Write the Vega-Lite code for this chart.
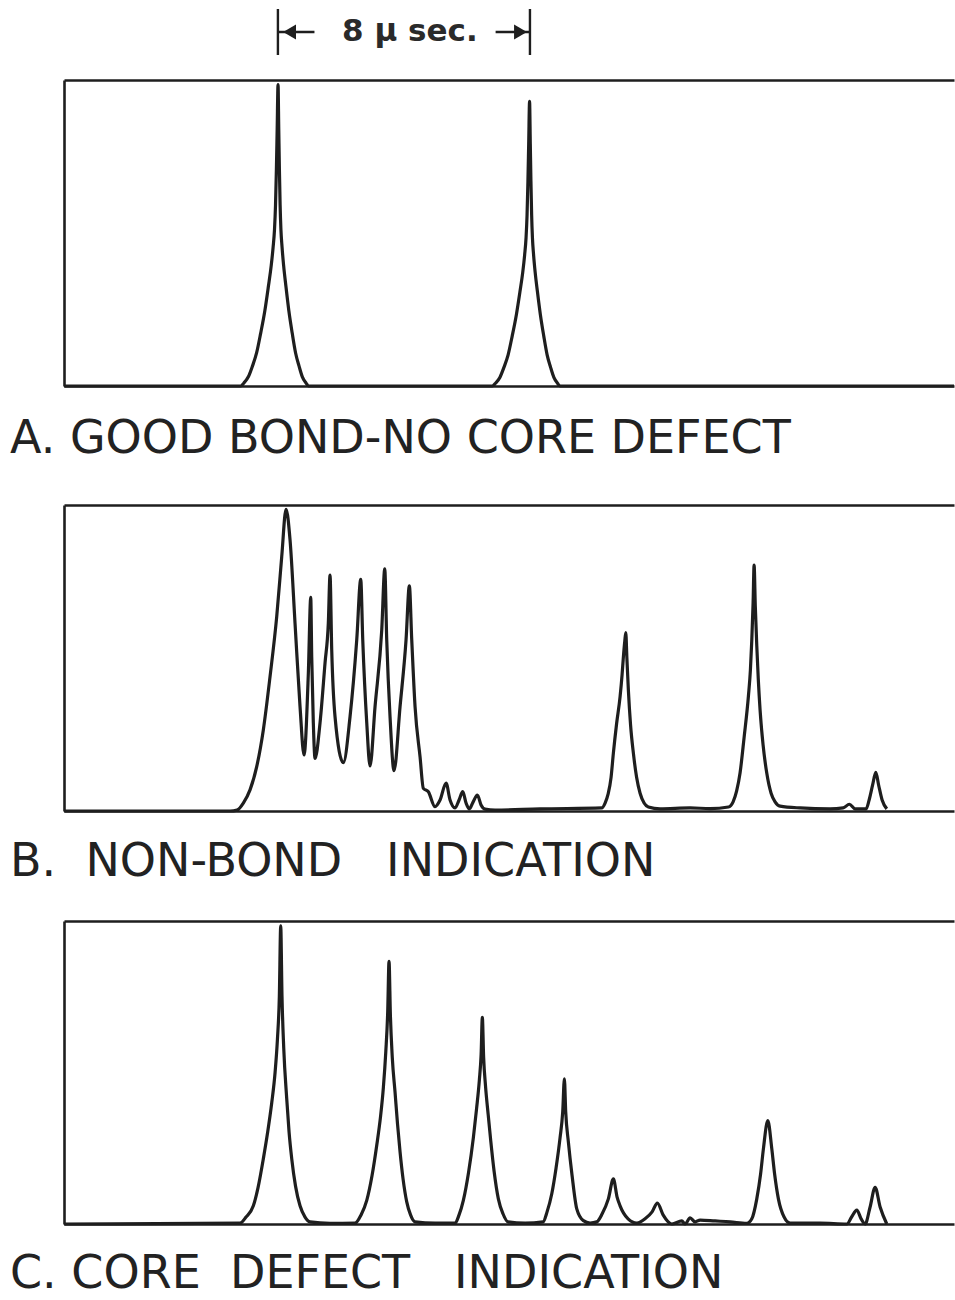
{
  "$schema": "https://vega.github.io/schema/vega-lite/v6.json",
  "background": "white",
  "padding": {"left": 10, "top": 7, "right": 0, "bottom": 0},
  "spacing": 21,
  "config": {
    "view": {"stroke": null},
    "axis": {"domainColor": "#1e1e1e", "domainWidth": 2.6, "ticks": false, "labels": false, "grid": false},
    "title": {"font": "DejaVu Sans", "fontSize": 46, "fontWeight": "normal", "color": "#222222", "orient": "bottom", "anchor": "start", "dx": -54, "frame": "group"}
  },
  "datasets": {
    "arrows": [
      {"from": 6.79, "to": 7.95, "head": 7.16, "shape": "triangle-left"},
      {"from": 14.79, "to": 13.7, "head": 14.49, "shape": "triangle-right"}
    ],
    "span": [{"mid": 10.98, "label": "8 μ sec."}],
    "A": [
      {"t": 0, "a": 0},
      {"t": 5.607, "a": 0}, {"t": 5.711, "a": 1.0}, {"t": 5.851, "a": 3.0}, {"t": 5.981, "a": 6.5}, {"t": 6.113, "a": 10.8},
      {"t": 6.242, "a": 17.2}, {"t": 6.375, "a": 24.6}, {"t": 6.487, "a": 32.5}, {"t": 6.578, "a": 39.4}, {"t": 6.637, "a": 45.3},
      {"t": 6.682, "a": 51.2}, {"t": 6.714, "a": 59.1}, {"t": 6.742, "a": 70.9}, {"t": 6.766, "a": 83.7}, {"t": 6.794, "a": 98.5},
      {"t": 6.817, "a": 83.7}, {"t": 6.837, "a": 70.9}, {"t": 6.86, "a": 59.1}, {"t": 6.885, "a": 51.2}, {"t": 6.922, "a": 45.3},
      {"t": 6.971, "a": 39.4}, {"t": 7.045, "a": 32.5}, {"t": 7.137, "a": 24.6}, {"t": 7.245, "a": 17.2}, {"t": 7.351, "a": 10.8},
      {"t": 7.461, "a": 6.5}, {"t": 7.565, "a": 3.0}, {"t": 7.68, "a": 1.0}, {"t": 7.765, "a": 0},
      {"t": 13.591, "a": 0}, {"t": 13.695, "a": 0.9}, {"t": 13.835, "a": 2.8}, {"t": 13.965, "a": 6.1}, {"t": 14.097, "a": 10.2},
      {"t": 14.226, "a": 16.3}, {"t": 14.359, "a": 23.3}, {"t": 14.471, "a": 30.7}, {"t": 14.562, "a": 37.2}, {"t": 14.621, "a": 42.8},
      {"t": 14.666, "a": 48.4}, {"t": 14.698, "a": 55.8}, {"t": 14.726, "a": 67.0}, {"t": 14.75, "a": 79.1}, {"t": 14.778, "a": 93},
      {"t": 14.801, "a": 79.1}, {"t": 14.821, "a": 67.0}, {"t": 14.844, "a": 55.8}, {"t": 14.869, "a": 48.4}, {"t": 14.906, "a": 42.8},
      {"t": 14.955, "a": 37.2}, {"t": 15.029, "a": 30.7}, {"t": 15.121, "a": 23.3}, {"t": 15.229, "a": 16.3}, {"t": 15.335, "a": 10.2},
      {"t": 15.445, "a": 6.1}, {"t": 15.549, "a": 2.8}, {"t": 15.664, "a": 0.9}, {"t": 15.749, "a": 0},
      {"t": 28.25, "a": 0}
    ],
    "B": [
      {"t": 0, "a": 0}, {"t": 5.27, "a": 0}, {"t": 5.492, "a": 0.3}, {"t": 5.692, "a": 2.6}, {"t": 5.905, "a": 6.9},
      {"t": 6.117, "a": 14.5}, {"t": 6.327, "a": 26.5}, {"t": 6.54, "a": 43.9}, {"t": 6.752, "a": 63.5}, {"t": 6.911, "a": 83.1},
      {"t": 7.048, "a": 98.6}, {"t": 7.175, "a": 88.6}, {"t": 7.333, "a": 61.4}, {"t": 7.492, "a": 34.1}, {"t": 7.619, "a": 18.3},
      {"t": 7.756, "a": 45.1}, {"t": 7.832, "a": 69.8}, {"t": 7.863, "a": 50.4}, {"t": 7.914, "a": 28.8}, {"t": 7.968, "a": 17.2},
      {"t": 8.127, "a": 28.8}, {"t": 8.286, "a": 48.4}, {"t": 8.39, "a": 61.4}, {"t": 8.444, "a": 77.1}, {"t": 8.498, "a": 52.6},
      {"t": 8.603, "a": 30.8}, {"t": 8.867, "a": 15.8}, {"t": 9.079, "a": 30.8}, {"t": 9.292, "a": 55.9}, {"t": 9.419, "a": 75.7},
      {"t": 9.483, "a": 55.9}, {"t": 9.61, "a": 28.8}, {"t": 9.714, "a": 14.7}, {"t": 9.873, "a": 34.1}, {"t": 10.086, "a": 59.2},
      {"t": 10.181, "a": 79.1}, {"t": 10.244, "a": 55.9}, {"t": 10.349, "a": 30.8}, {"t": 10.476, "a": 13.2}, {"t": 10.667, "a": 34.1},
      {"t": 10.857, "a": 55.9}, {"t": 10.962, "a": 73.6}, {"t": 11.038, "a": 55.9}, {"t": 11.143, "a": 34.1}, {"t": 11.302, "a": 17.7},
      {"t": 11.406, "a": 7.4}, {"t": 11.565, "a": 6.3}, {"t": 11.778, "a": 1.4}, {"t": 11.937, "a": 3.6}, {"t": 12.127, "a": 9.1},
      {"t": 12.254, "a": 3.6}, {"t": 12.413, "a": 1.0}, {"t": 12.54, "a": 3.6}, {"t": 12.657, "a": 6.3}, {"t": 12.762, "a": 2.6},
      {"t": 12.867, "a": 0.7}, {"t": 12.984, "a": 2.9}, {"t": 13.121, "a": 5.2}, {"t": 13.238, "a": 2.0}, {"t": 13.365, "a": 0.6},
      {"t": 13.683, "a": 0.3}, {"t": 15.111, "a": 0.7}, {"t": 17.07, "a": 1.0}, {"t": 17.175, "a": 2.6}, {"t": 17.27, "a": 5.5},
      {"t": 17.365, "a": 11.0}, {"t": 17.438, "a": 18.9}, {"t": 17.54, "a": 28.5}, {"t": 17.651, "a": 37.4}, {"t": 17.714, "a": 44.5},
      {"t": 17.756, "a": 50.4}, {"t": 17.8, "a": 55.5}, {"t": 17.832, "a": 58.3}, {"t": 17.867, "a": 50.0}, {"t": 17.914, "a": 39.5},
      {"t": 17.984, "a": 28.1}, {"t": 18.073, "a": 18.9}, {"t": 18.175, "a": 11.0}, {"t": 18.286, "a": 5.8}, {"t": 18.413, "a": 2.6},
      {"t": 18.549, "a": 1.3}, {"t": 18.921, "a": 0.7}, {"t": 19.873, "a": 1.0}, {"t": 20.508, "a": 0.8}, {"t": 21.089, "a": 1.3},
      {"t": 21.238, "a": 3.0}, {"t": 21.349, "a": 6.5}, {"t": 21.46, "a": 12.5}, {"t": 21.587, "a": 24.0}, {"t": 21.724, "a": 37.5},
      {"t": 21.787, "a": 46.0}, {"t": 21.832, "a": 55.9}, {"t": 21.873, "a": 68.0}, {"t": 21.905, "a": 80.4}, {"t": 21.943, "a": 67.0},
      {"t": 21.99, "a": 54.0}, {"t": 22.038, "a": 43.0}, {"t": 22.095, "a": 33.0}, {"t": 22.19, "a": 21.6}, {"t": 22.308, "a": 12.3},
      {"t": 22.444, "a": 5.8}, {"t": 22.571, "a": 3.0}, {"t": 22.73, "a": 1.6},
      {"t": 23.365, "a": 1.0}, {"t": 24.317, "a": 0.7}, {"t": 24.73, "a": 1.0}, {"t": 24.93, "a": 2.2}, {"t": 25.111, "a": 0.7},
      {"t": 25.46, "a": 0.7}, {"t": 25.556, "a": 3.6}, {"t": 25.667, "a": 8.5}, {"t": 25.768, "a": 12.6}, {"t": 25.857, "a": 8.5},
      {"t": 25.968, "a": 3.6}, {"t": 26.117, "a": 0.7}
    ],
    "C": [
      {"t": 0, "a": 0}, {"t": 5.587, "a": 0.3}, {"t": 5.778, "a": 2.3}, {"t": 6.01, "a": 6.0}, {"t": 6.159, "a": 12.0},
      {"t": 6.327, "a": 21.5}, {"t": 6.46, "a": 30.0}, {"t": 6.594, "a": 40.0}, {"t": 6.7, "a": 50.0}, {"t": 6.775, "a": 61.0},
      {"t": 6.835, "a": 75.0}, {"t": 6.879, "a": 98.4}, {"t": 6.92, "a": 75.0}, {"t": 6.975, "a": 58.0}, {"t": 7.07, "a": 41.3},
      {"t": 7.143, "a": 30.5}, {"t": 7.229, "a": 21.5}, {"t": 7.349, "a": 12.5}, {"t": 7.492, "a": 6.0}, {"t": 7.651, "a": 2.3},
      {"t": 7.81, "a": 0.7}, {"t": 8.444, "a": 0.2},
      {"t": 9.238, "a": 0.3}, {"t": 9.429, "a": 3.0}, {"t": 9.61, "a": 7.8}, {"t": 9.778, "a": 16.0}, {"t": 9.927, "a": 26.0},
      {"t": 10.048, "a": 35.5}, {"t": 10.137, "a": 45.0}, {"t": 10.215, "a": 57.0}, {"t": 10.275, "a": 70.0}, {"t": 10.317, "a": 86.7},
      {"t": 10.36, "a": 69.0}, {"t": 10.42, "a": 55.0}, {"t": 10.508, "a": 43.5}, {"t": 10.587, "a": 33.0}, {"t": 10.667, "a": 23.8},
      {"t": 10.762, "a": 14.9}, {"t": 10.879, "a": 7.3}, {"t": 11.0, "a": 3.0}, {"t": 11.143, "a": 0.7}, {"t": 11.778, "a": 0.3},
      {"t": 12.413, "a": 0.3}, {"t": 12.54, "a": 3.0}, {"t": 12.676, "a": 7.8}, {"t": 12.841, "a": 17.0}, {"t": 12.994, "a": 28.5},
      {"t": 13.095, "a": 38.0}, {"t": 13.184, "a": 47.5}, {"t": 13.24, "a": 56.0}, {"t": 13.279, "a": 68.2}, {"t": 13.32, "a": 55.0},
      {"t": 13.38, "a": 45.5}, {"t": 13.465, "a": 36.0}, {"t": 13.545, "a": 27.5}, {"t": 13.651, "a": 17.5}, {"t": 13.787, "a": 8.3},
      {"t": 13.937, "a": 3.3}, {"t": 14.095, "a": 0.7}, {"t": 14.635, "a": 0.3}, {"t": 15.206, "a": 0.7},
      {"t": 15.333, "a": 4.0}, {"t": 15.483, "a": 10.0}, {"t": 15.619, "a": 18.5}, {"t": 15.746, "a": 28.5}, {"t": 15.83, "a": 37.0},
      {"t": 15.883, "a": 47.9}, {"t": 15.925, "a": 37.0}, {"t": 16.01, "a": 27.0}, {"t": 16.127, "a": 16.0}, {"t": 16.276, "a": 5.0},
      {"t": 16.486, "a": 1.1}, {"t": 16.698, "a": 0.3}, {"t": 16.911, "a": 0.7}, {"t": 17.079, "a": 3.3}, {"t": 17.279, "a": 8.3},
      {"t": 17.438, "a": 14.9}, {"t": 17.556, "a": 8.9}, {"t": 17.651, "a": 6.0}, {"t": 17.905, "a": 1.7}, {"t": 18.181, "a": 0.3},
      {"t": 18.444, "a": 1.7}, {"t": 18.667, "a": 4.0}, {"t": 18.835, "a": 6.9}, {"t": 19.016, "a": 3.0}, {"t": 19.292, "a": 0},
      {"t": 19.61, "a": 1.0}, {"t": 19.714, "a": 0}, {"t": 19.873, "a": 2.0}, {"t": 20.032, "a": 0.7}, {"t": 20.19, "a": 1.3},
      {"t": 20.667, "a": 1.0}, {"t": 21.143, "a": 0.7}, {"t": 21.673, "a": 0.2}, {"t": 21.832, "a": 1.7}, {"t": 21.99, "a": 8.3},
      {"t": 22.111, "a": 16.5}, {"t": 22.2, "a": 24.8}, {"t": 22.34, "a": 34.1}, {"t": 22.467, "a": 24.8}, {"t": 22.556, "a": 16.5},
      {"t": 22.676, "a": 8.3}, {"t": 22.857, "a": 2.3}, {"t": 23.048, "a": 0.3},
      {"t": 24.0, "a": 0.3}, {"t": 24.848, "a": 0},
      {"t": 25.0, "a": 2.3}, {"t": 25.165, "a": 4.6}, {"t": 25.302, "a": 1.7}, {"t": 25.429, "a": 0}, {"t": 25.587, "a": 5.6},
      {"t": 25.746, "a": 12.1}, {"t": 25.905, "a": 5.6}, {"t": 26.117, "a": 0}
    ]
  },
  "vconcat": [
    {
      "width": 890,
      "height": 46,
      "layer": [
        {
          "data": {"name": "arrows"},
          "mark": {"type": "rule", "color": "#1e1e1e", "strokeWidth": 2.6},
          "encoding": {
            "x": {"field": "from", "type": "quantitative", "scale": {"domain": [0, 28.25], "nice": false, "zero": false}, "axis": null},
            "x2": {"field": "to"},
            "y": {"datum": 0, "type": "quantitative", "scale": {"domain": [-1, 1]}, "axis": null}
          }
        },
        {
          "data": {"name": "arrows"},
          "mark": {"type": "rule", "color": "#1e1e1e", "strokeWidth": 2.4},
          "encoding": {
            "x": {"field": "from", "type": "quantitative"},
            "y": {"datum": -1, "type": "quantitative"},
            "y2": {"datum": 1}
          }
        },
        {
          "data": {"name": "arrows"},
          "mark": {"type": "point", "filled": true, "color": "#1e1e1e", "size": 220, "opacity": 1},
          "encoding": {
            "x": {"field": "head", "type": "quantitative"},
            "y": {"datum": 0, "type": "quantitative"},
            "shape": {"field": "shape", "type": "nominal", "scale": null}
          }
        },
        {
          "data": {"name": "span"},
          "mark": {"type": "text", "font": "DejaVu Sans", "fontSize": 31, "fontWeight": "bold", "color": "#2a2a2a", "baseline": "middle", "align": "center"},
          "encoding": {
            "x": {"field": "mid", "type": "quantitative"},
            "y": {"datum": 0, "type": "quantitative"},
            "text": {"field": "label"}
          }
        }
      ]
    },
    {
      "width": 890,
      "height": 306,
      "data": {"name": "A"},
      "title": {"text": "A. GOOD BOND-NO CORE DEFECT", "offset": 25},
      "layer": [
        {
          "mark": {"type": "line", "interpolate": "monotone", "color": "#1e1e1e", "strokeWidth": 3.2},
          "encoding": {
            "x": {"field": "t", "type": "quantitative", "scale": {"domain": [0, 28.25], "nice": false, "zero": false}, "axis": {"orient": "bottom", "title": null}},
            "y": {"field": "a", "type": "quantitative", "scale": {"domain": [0, 100], "nice": false}, "axis": {"title": null}}
          }
        },
        {
          "mark": {"type": "line", "opacity": 0},
          "encoding": {
            "x": {"field": "t", "type": "quantitative", "axis": {"orient": "top", "title": null}},
            "y": {"field": "a", "type": "quantitative"}
          }
        }
      ],
      "resolve": {"axis": {"x": "independent"}}
    },
    {
      "width": 890,
      "height": 306,
      "data": {"name": "B"},
      "title": {"text": "B.\u00a0 NON-BOND\u00a0\u00a0 INDICATION", "offset": 23},
      "layer": [
        {
          "mark": {"type": "line", "interpolate": "monotone", "color": "#1e1e1e", "strokeWidth": 3.2},
          "encoding": {
            "x": {"field": "t", "type": "quantitative", "scale": {"domain": [0, 28.25], "nice": false, "zero": false}, "axis": {"orient": "bottom", "title": null}},
            "y": {"field": "a", "type": "quantitative", "scale": {"domain": [0, 100], "nice": false}, "axis": {"title": null}}
          }
        },
        {
          "mark": {"type": "line", "opacity": 0},
          "encoding": {
            "x": {"field": "t", "type": "quantitative", "axis": {"orient": "top", "title": null, "minExtent": 21}},
            "y": {"field": "a", "type": "quantitative"}
          }
        }
      ],
      "resolve": {"axis": {"x": "independent"}}
    },
    {
      "width": 890,
      "height": 303,
      "data": {"name": "C"},
      "title": {"text": "C. CORE\u00a0 DEFECT\u00a0\u00a0 INDICATION", "offset": 22},
      "layer": [
        {
          "mark": {"type": "line", "interpolate": "monotone", "color": "#1e1e1e", "strokeWidth": 3.2},
          "encoding": {
            "x": {"field": "t", "type": "quantitative", "scale": {"domain": [0, 28.25], "nice": false, "zero": false}, "axis": {"orient": "bottom", "title": null}},
            "y": {"field": "a", "type": "quantitative", "scale": {"domain": [0, 100], "nice": false}, "axis": {"title": null}}
          }
        },
        {
          "mark": {"type": "line", "opacity": 0},
          "encoding": {
            "x": {"field": "t", "type": "quantitative", "axis": {"orient": "top", "title": null, "minExtent": 14}},
            "y": {"field": "a", "type": "quantitative"}
          }
        }
      ],
      "resolve": {"axis": {"x": "independent"}}
    }
  ]
}
